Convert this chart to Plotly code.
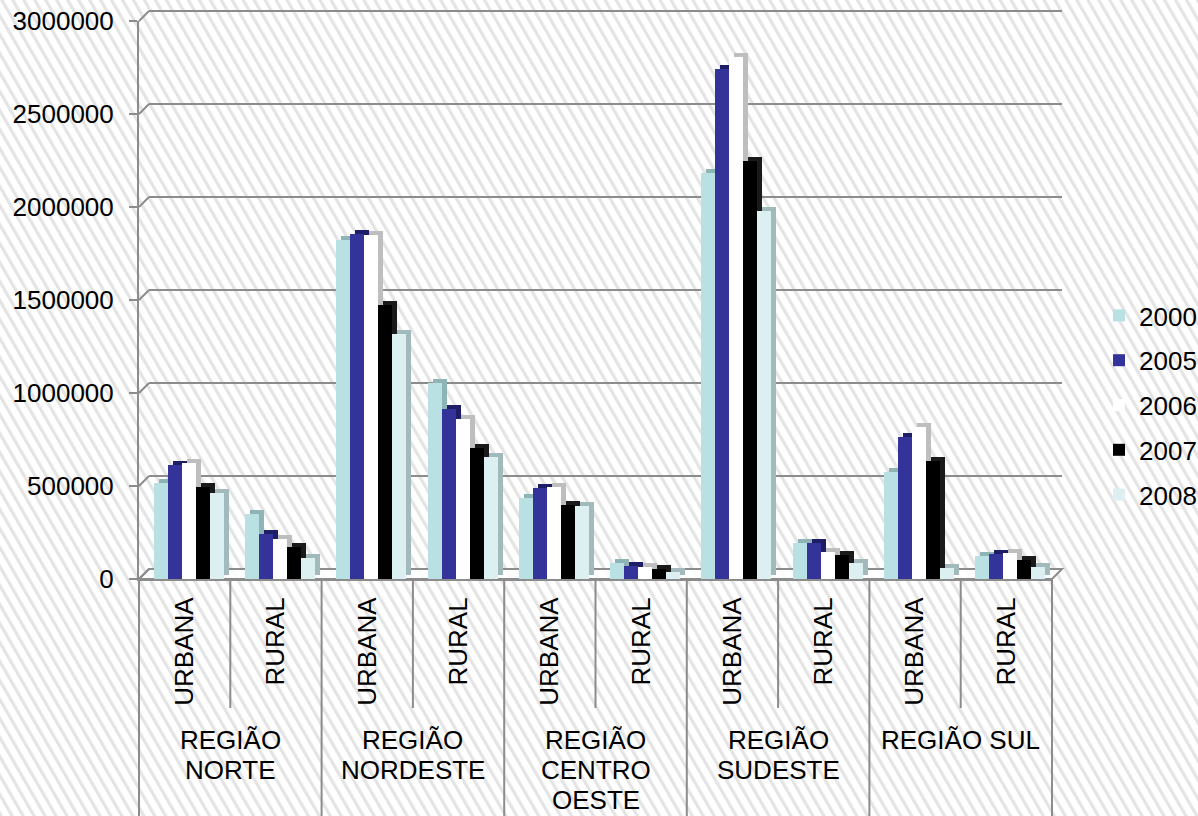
import base64
import plotly.graph_objects as go

# ---------------- data ----------------
regions = [["REGIÃO", "NORTE"], ["REGIÃO", "NORDESTE"], ["REGIÃO", "CENTRO", "OESTE"],
           ["REGIÃO", "SUDESTE"], ["REGIÃO SUL"]]
subcats = ["URBANA", "RURAL"]
years = ["2000", "2005", "2006", "2007", "2008"]

v2000 = [516000, 349000, 1823000, 1054000, 435000, 85000, 2183000, 194000, 575000, 124000]
v2005 = [615000, 242000, 1855000, 914000, 489000, 68000, 2742000, 192000, 763000, 134000]
v2006 = [622000, 215000, 1850000, 860000, 495000, 62000, 2806000, 145000, 817000, 140000]
v2007 = [495000, 172000, 1473000, 704000, 398000, 55000, 2247000, 129000, 634000, 102000]
v2008 = [460000, 113000, 1317000, 656000, 392000, 35000, 1978000, 86000, 59000, 65000]
series = [v2000, v2005, v2006, v2007, v2008]

y_ticks = [0, 500000, 1000000, 1500000, 2000000, 2500000, 3000000]

# ---------------- styling ----------------
front_colors = ["#B9E0E2", "#333399", "#FFFFFF", "#000000", "#DCEFF1"]
side_colors = ["#8FB4B6", "#1E1E66", "#BEBEBE", "#1A1A1A", "#A2BABC"]
GRID = "#8C8C8C"
FONT = "Liberation Sans, Arial, sans-serif"

W, H = 1198, 816
L, R, T, B = 139, 136, 11, 237
PW, PH = W - L - R, H - T - B
D = 10  # 3D depth in px
YMAX = 3000000

ncat = len(subcats) * len(regions)
xcat = list(range(ncat))
ticktext = [s for _ in regions for s in subcats]

cat_px = (PW - D) / ncat
bar_w = 14 / cat_px
first_off = -31 / cat_px
dx = 5 / cat_px
dz = 4 * YMAX / (PH - D)

fig = go.Figure()

# empty trace to create the back-wall subplot
fig.add_trace(go.Scatter(x=[], y=[], xaxis="x", yaxis="y", showlegend=False))

# 3D side/top faces
for i, vals in enumerate(series):
    fig.add_trace(go.Bar(
        x=xcat, y=vals, base=[dz] * len(vals), offset=first_off + i * bar_w + dx, width=bar_w,
        marker=dict(color=side_colors[i], line=dict(width=0)),
        xaxis="x2", yaxis="y2", showlegend=False, legendgroup=years[i], hoverinfo="skip"))
# front faces
for i, vals in enumerate(series):
    fig.add_trace(go.Bar(
        x=xcat, y=vals, offset=first_off + i * bar_w, width=bar_w, name=years[i],
        marker=dict(color=front_colors[i], line=dict(width=0)),
        xaxis="x2", yaxis="y2", legendgroup=years[i]))

# hatched background
svg = (f'<svg xmlns="http://www.w3.org/2000/svg" width="{W}" height="{H}" viewBox="0 0 {W} {H}" '
       f'preserveAspectRatio="none"><defs><pattern id="p" width="9.5" height="20" '
       f'patternUnits="userSpaceOnUse" patternTransform="rotate(-30)">'
       f'<rect width="9.5" height="20" fill="#FFFFFF"/><rect width="3.2" height="20" fill="#E4E4E4"/>'
       f'</pattern></defs><rect width="{W}" height="{H}" fill="url(#p)"/></svg>')
src = "data:image/svg+xml;base64," + base64.b64encode(svg.encode()).decode()

fx = (PW - D) / PW
fy = (PH - D) / PH

shapes = []
# floor
shapes.append(dict(type="path", xref="paper", yref="paper",
                   path=f"M 0 0 L {fx} 0 L 1 {D/PH} L {D/PW} {D/PH} Z",
                   fillcolor="rgba(255,255,255,0.85)", line=dict(color=GRID, width=2), layer="below"))
# top edge of the back wall (gridline at the axis maximum)
shapes.append(dict(type="line", xref="paper", yref="paper", x0=D / PW, x1=1, y0=1, y1=1,
                   line=dict(color=GRID, width=2), layer="below"))
# slanted connectors from axis ticks to back wall gridlines
for v in y_ticks:
    yf = v / YMAX * fy
    shapes.append(dict(type="line", xref="paper", yref="paper", x0=0, x1=D / PW,
                       y0=yf, y1=yf + D / PH, line=dict(color=GRID, width=2)))
# category separators
for k in range(ncat + 1):
    xp = k / ncat * fx
    if k % 2 == 0:
        y1 = -(H - (T + PH)) / PH
    else:
        y1 = -129 / PH
    shapes.append(dict(type="line", xref="paper", yref="paper", x0=xp, x1=xp, y0=0, y1=y1,
                       line=dict(color=GRID, width=2)))

annotations = []
LINE_PX = 30
for r, lines in enumerate(regions):
    for j, txt in enumerate(lines):
        annotations.append(dict(text=txt, xref="x2", x=2 * r + 0.5, yref="paper",
                                y=-(161 + j * LINE_PX) / PH, yanchor="middle", xanchor="center",
                                showarrow=False, font=dict(size=26, color="#000000", family=FONT)))

fig.update_layout(
    width=W, height=H,
    margin=dict(l=L, r=R, t=T, b=B, autoexpand=False),
    paper_bgcolor="#FFFFFF", plot_bgcolor="rgba(0,0,0,0)",
    font=dict(family=FONT, size=26, color="#000000"),
    barmode="overlay", bargap=0,
    images=[dict(source=src, xref="paper", yref="paper", x=-L / PW, y=1 + T / PH,
                 sizex=W / PW, sizey=H / PH, xanchor="left", yanchor="top",
                 sizing="stretch", layer="below")],
    shapes=shapes, annotations=annotations,
    # back wall
    xaxis=dict(domain=[D / PW, 1], range=[-0.5, ncat - 0.5], visible=False, anchor="y"),
    yaxis=dict(domain=[D / PH, 1], range=[0, YMAX], tickvals=y_ticks, showgrid=True,
               gridcolor=GRID, gridwidth=2, showticklabels=False, zeroline=False,
               showline=False, ticks="", anchor="x"),
    # front
    xaxis2=dict(domain=[0, fx], range=[-0.5, ncat - 0.5], anchor="y2",
                tickmode="array", tickvals=xcat, ticktext=ticktext, tickangle=-90,
                ticks="", showline=True, linecolor=GRID, linewidth=2, showgrid=False,
                zeroline=False, tickfont=dict(size=26, color="#000000"), ticklabelstandoff=6),
    yaxis2=dict(domain=[0, fy], range=[0, YMAX], anchor="x2", tickmode="array", tickvals=y_ticks,
                tickformat="d", showline=True, linecolor=GRID, linewidth=2, ticks="outside",
                ticklen=8, tickwidth=2, tickcolor=GRID, showgrid=False, zeroline=False,
                tickfont=dict(size=26, color="#000000"), ticklabelstandoff=10),
    legend=dict(x=(1099 - L) / PW, xanchor="left", y=(T + PH - 292) / PH, yanchor="top",
                bgcolor="rgba(0,0,0,0)", font=dict(size=26), traceorder="grouped",
                tracegroupgap=8),
    showlegend=True,
)

fig.write_html("out.html")
